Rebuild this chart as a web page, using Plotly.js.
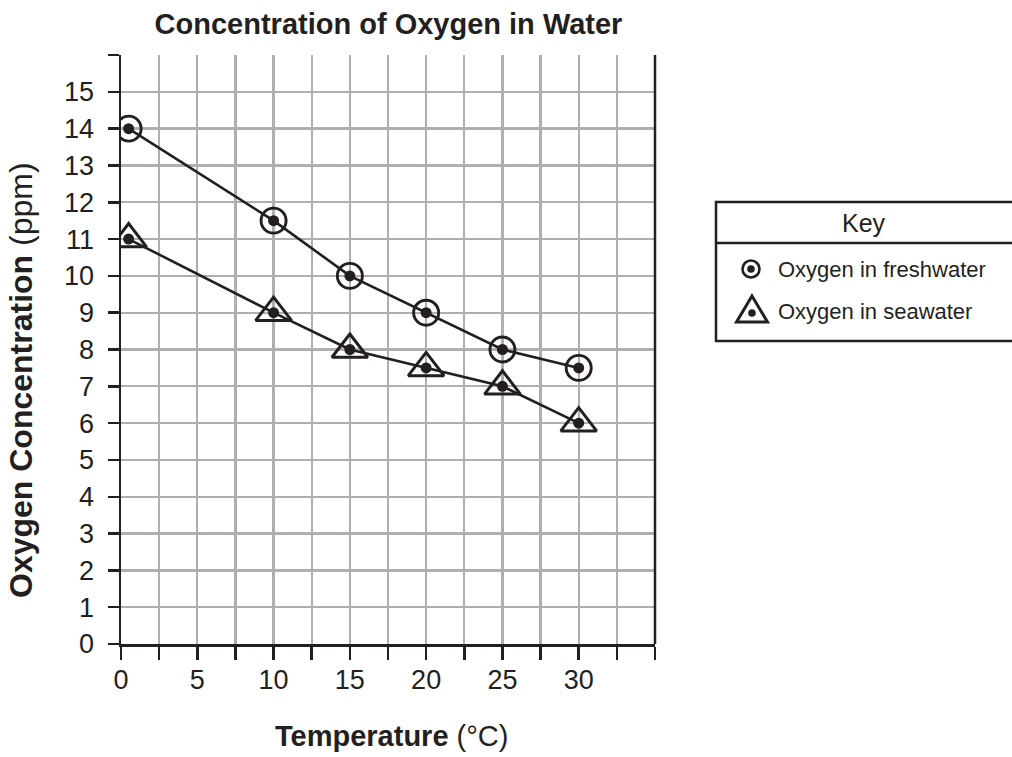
<!DOCTYPE html>
<html><head><meta charset="utf-8">
<script src="https://cdn.plot.ly/plotly-3.0.1.min.js"></script>
<style>html,body{margin:0;padding:0;background:#fff}</style>
</head><body><div id="chart" style="width:1012px;height:757px"></div>
<script>
// ---- data ----
const temperatures = [0.5, 10, 15, 20, 25, 30];
const freshwater = [14, 11.5, 10, 9, 8, 7.5];
const seawater = [11, 9, 8, 7.5, 7, 6];
const seriesNames = ['Oxygen in freshwater', 'Oxygen in seawater'];
const xTickVals = [0, 2.5, 5, 7.5, 10, 12.5, 15, 17.5, 20, 22.5, 25, 27.5, 30, 32.5, 35];
const xTickText = ['0', '', '5', '', '10', '', '15', '', '20', '', '25', '', '30', '', ''];
const yTickVals = [0, 1, 2, 3, 4, 5, 6, 7, 8, 9, 10, 11, 12, 13, 14, 15, 16];
const yTickText = ['0', '1', '2', '3', '4', '5', '6', '7', '8', '9', '10', '11', '12', '13', '14', '15', ''];
const chartTitle = 'Concentration of Oxygen in Water';
const xTitleBold = 'Temperature', xTitleUnit = '(°C)';
const yTitleBold = 'Oxygen Concentration', yTitleUnit = '(ppm)';
const keyTitle = 'Key';

// ---- styling / layout helpers ----
const INK = '#231f20';
const GRID = '#aeafb1';
const FONT = 'Liberation Sans, Arial, Helvetica, sans-serif';
const L = 121, R = 655, T = 55, B = 644, W = 1012, H = 757;
const px = p => (p - L) / (R - L);
const py = p => (B - p) / (B - T);

const traces = [
  {x: temperatures, y: freshwater, name: seriesNames[0], mode: 'lines+markers',
   line: {color: INK, width: 2.6},
   marker: {symbol: 'circle-open', size: 25, color: INK, line: {width: 2.9, color: INK}},
   showlegend: false, hoverinfo: 'x+y'},
  {x: temperatures, y: seawater, name: seriesNames[1], mode: 'lines+markers',
   line: {color: INK, width: 2.6},
   marker: {symbol: 'triangle-up-open', size: 31, color: INK, line: {width: 3, color: INK}},
   showlegend: false, hoverinfo: 'x+y'},
  {x: temperatures, y: freshwater, mode: 'markers', marker: {symbol: 'circle', size: 11, color: INK},
   showlegend: false, hoverinfo: 'skip'},
  {x: temperatures, y: seawater, mode: 'markers', marker: {symbol: 'circle', size: 11, color: INK},
   showlegend: false, hoverinfo: 'skip'}
];

const shapes = [
  // right frame edge
  {type: 'line', xref: 'paper', yref: 'paper', x0: 1, x1: 1, y0: 0, y1: 1, line: {color: INK, width: 2.5}},
  // key box
  {type: 'rect', xref: 'paper', yref: 'paper', x0: px(716), x1: px(1030), y0: py(341), y1: py(202),
   line: {color: INK, width: 2.5}},
  {type: 'line', xref: 'paper', yref: 'paper', x0: px(716), x1: px(1030), y0: py(243), y1: py(243),
   line: {color: INK, width: 2.5}},
  // key symbol: circle with dot
  {type: 'circle', xref: 'paper', yref: 'paper', x0: px(742.5), x1: px(759.5), y0: py(277.5), y1: py(260.5),
   line: {color: INK, width: 2.6}},
  {type: 'circle', xref: 'paper', yref: 'paper', x0: px(747.2), x1: px(754.8), y0: py(272.8), y1: py(265.2),
   fillcolor: INK, line: {width: 0}},
  // key symbol: triangle with dot
  {type: 'path', xref: 'paper', yref: 'paper',
   path: `M ${px(752)},${py(296)} L ${px(767.5)},${py(322)} L ${px(736.5)},${py(322)} Z`,
   line: {color: INK, width: 3}},
  {type: 'circle', xref: 'paper', yref: 'paper', x0: px(748.2), x1: px(755.8), y0: py(316.8), y1: py(309.2),
   fillcolor: INK, line: {width: 0}}
];

const annotations = [
  {xref: 'paper', yref: 'paper', x: px(21), y: py(380), textangle: -90, showarrow: false,
   xanchor: 'center', yanchor: 'middle',
   text: `<b>${yTitleBold}</b> ${yTitleUnit}`, font: {family: FONT, size: 32, color: INK}},
  {xref: 'paper', yref: 'paper', x: px(391), y: py(736), showarrow: false,
   xanchor: 'center', yanchor: 'middle',
   text: `<b>${xTitleBold}</b> ${xTitleUnit}`, font: {family: FONT, size: 29, color: INK}},
  {xref: 'paper', yref: 'paper', x: px(864), y: py(223), showarrow: false,
   xanchor: 'center', yanchor: 'middle', text: keyTitle, font: {family: FONT, size: 25, color: INK}},
  {xref: 'paper', yref: 'paper', x: px(776), y: py(269), showarrow: false,
   xanchor: 'left', yanchor: 'middle', text: seriesNames[0], font: {family: FONT, size: 22, color: INK}},
  {xref: 'paper', yref: 'paper', x: px(776), y: py(311), showarrow: false,
   xanchor: 'left', yanchor: 'middle', text: seriesNames[1], font: {family: FONT, size: 22, color: INK}}
];

const layout = {
  width: W, height: H,
  margin: {l: L, r: W - R, t: T, b: H - B, pad: 0},
  paper_bgcolor: '#fff', plot_bgcolor: '#fff',
  showlegend: false,
  font: {family: FONT, color: INK},
  title: {text: `<b>${chartTitle}</b>`, font: {family: FONT, size: 29, color: INK},
          x: px(388.5), xref: 'paper', xanchor: 'center', y: 1 - 24 / H, yref: 'container', yanchor: 'middle'},
  xaxis: {range: [0, 35], tickmode: 'array', tickvals: xTickVals, ticktext: xTickText,
          ticks: 'outside', ticklen: 13, tickwidth: 2.5, tickcolor: INK,
          showline: true, linecolor: INK, linewidth: 2.5,
          showgrid: true, gridcolor: GRID, gridwidth: 2.3, zeroline: false,
          tickfont: {family: FONT, size: 27, color: INK}, ticklabelstandoff: -3, fixedrange: true},
  yaxis: {range: [0, 16], tickmode: 'array', tickvals: yTickVals, ticktext: yTickText,
          ticks: 'outside', ticklen: 11, tickwidth: 2.5, tickcolor: INK,
          showline: true, linecolor: INK, linewidth: 2.5,
          showgrid: true, gridcolor: GRID, gridwidth: 2.3, zeroline: false,
          tickfont: {family: FONT, size: 27, color: INK}, ticklabelstandoff: 8, fixedrange: true},
  shapes: shapes,
  annotations: annotations
};

Plotly.newPlot('chart', traces, layout, {displayModeBar: false, staticPlot: true});
</script>
</body></html>
